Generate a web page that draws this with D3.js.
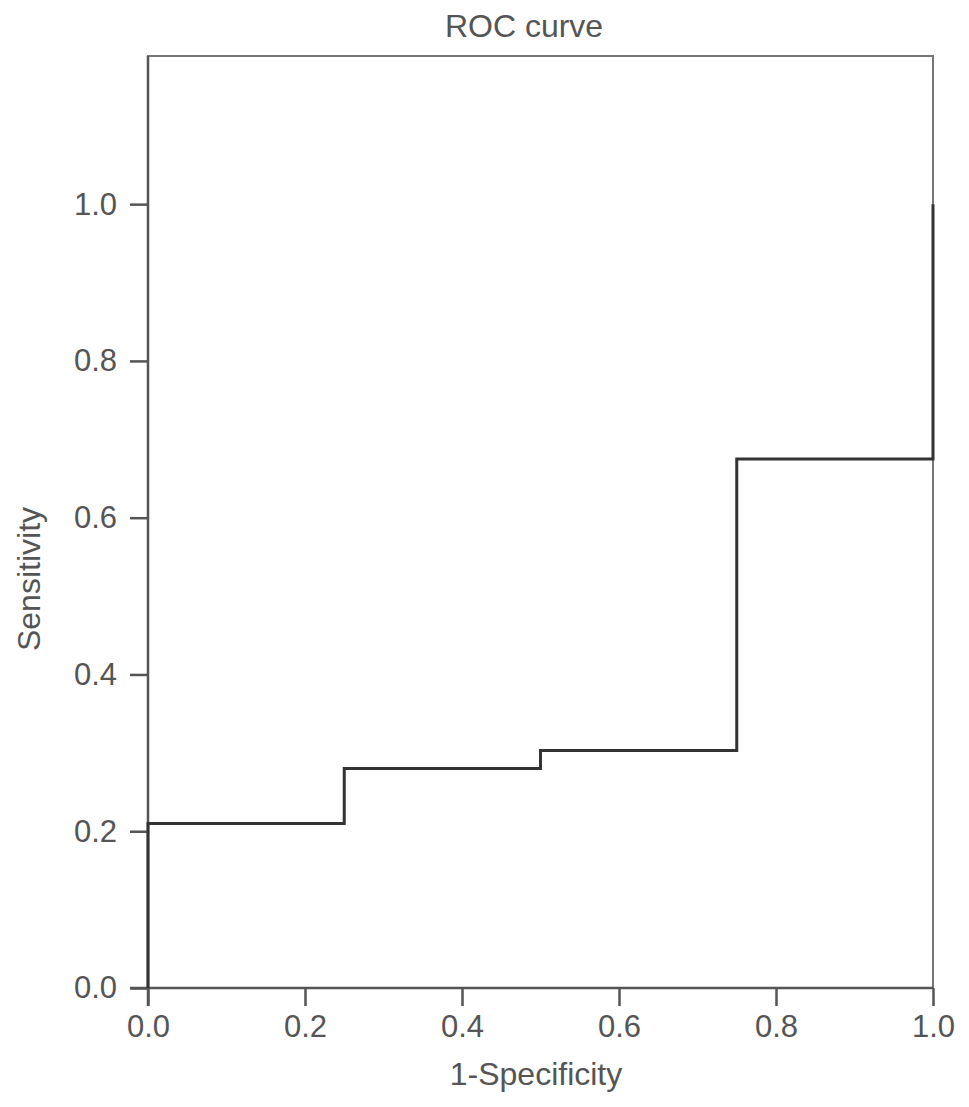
<!DOCTYPE html>
<html>
<head>
<meta charset="utf-8">
<script src="https://cdn.jsdelivr.net/npm/d3@7"></script>
<style>
  body{margin:0;background:#fff}
  text{font-family:"Liberation Sans",Arial,sans-serif;fill:#555}
</style>
</head>
<body>
<svg id="chart" width="969" height="1107"></svg>
<script>
// ROC step points (1-specificity, sensitivity)
const fpr = [0, 0, 0.25, 0.25, 0.5, 0.5, 0.75, 0.75, 1, 1]
const tpr = [0, 0.21, 0.21, 0.28, 0.28, 0.303, 0.303, 0.675, 0.675, 1.0]
const xTicks = [0, 0.2, 0.4, 0.6, 0.8, 1.0]
const yTicks = [0, 0.2, 0.4, 0.6, 0.8, 1.0]

const margin = {top: 56, right: 36, bottom: 119, left: 148}
const W = 969, H = 1107
const w = W - margin.left - margin.right
const h = H - margin.top - margin.bottom

const svg = d3.select('#chart')
const g = svg.append('g').attr('transform', `translate(${margin.left},${margin.top})`)

const x = d3.scaleLinear().domain([0, 1]).range([0, w])
const y = d3.scaleLinear().domain([0, 1.189]).range([h, 0])

// frame
g.append('rect')
  .attr('x', 0).attr('y', 0).attr('width', w).attr('height', h)
  .attr('fill', 'none').attr('stroke', '#777').attr('stroke-width', 2)

const xAxis = g.append('g')
  .attr('transform', `translate(0,${h})`)
  .call(d3.axisBottom(x).tickValues(xTicks).tickFormat(d3.format('.1f')).tickSize(18).tickPadding(9))
const yAxis = g.append('g')
  .call(d3.axisLeft(y).tickValues(yTicks).tickFormat(d3.format('.1f')).tickSize(18).tickPadding(13))

;[xAxis, yAxis].forEach(a => {
  a.select('.domain').remove()
  a.selectAll('line').attr('stroke', '#555').attr('stroke-width', 2.5)
  a.selectAll('text').attr('font-size', 31).attr('fill', '#555')
})
// axis lines extending to the tick ends
g.append('line').attr('x1', -18).attr('x2', w).attr('y1', h).attr('y2', h)
  .attr('stroke', '#555').attr('stroke-width', 2.5)
g.append('line').attr('x1', 0).attr('x2', 0).attr('y1', 0).attr('y2', h + 18)
  .attr('stroke', '#555').attr('stroke-width', 2.5)

// ROC step line
const pts = fpr.map((d, i) => [d, tpr[i]])
g.append('path')
  .datum(pts)
  .attr('fill', 'none')
  .attr('stroke', '#333')
  .attr('stroke-width', 3)
  .attr('d', d3.line().x(d => x(d[0])).y(d => y(d[1])))

// title and axis labels
svg.append('text')
  .attr('x', 524).attr('y', 37)
  .attr('text-anchor', 'middle').attr('font-size', 32)
  .text('ROC curve')
svg.append('text')
  .attr('x', 536).attr('y', 1085)
  .attr('text-anchor', 'middle').attr('font-size', 32)
  .text('1-Specificity')
svg.append('text')
  .attr('transform', 'translate(40,579) rotate(-90)')
  .attr('text-anchor', 'middle').attr('font-size', 32)
  .text('Sensitivity')
</script>
</body>
</html>
